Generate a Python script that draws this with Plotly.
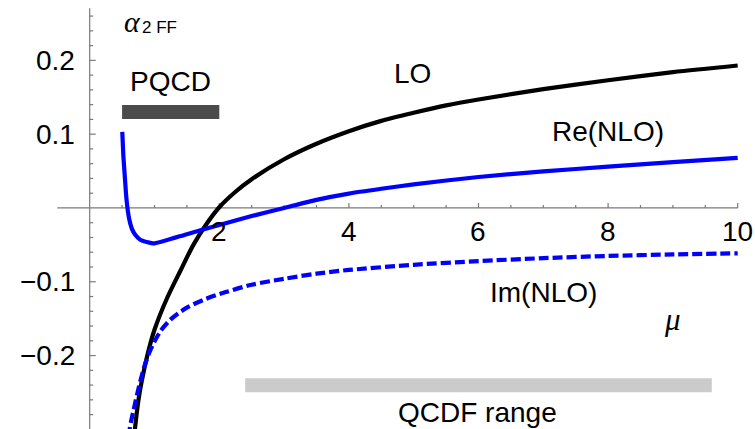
import plotly.graph_objects as go

# Form-factor coefficient alpha_2 versus the scale mu
lo_mu = [0.68, 0.70, 0.75, 0.80, 0.90, 1.0, 1.2, 1.4, 1.6, 1.8, 2.0, 2.25, 2.5, 3.0,
         3.5, 4.0, 4.5, 5.0, 5.5, 6.0, 7.0, 8.0, 9.0, 10.0]
lo_val = [-0.315, -0.298, -0.262, -0.236, -0.196, -0.165, -0.121, -0.085, -0.050,
          -0.022, 0.001, 0.022, 0.039, 0.066, 0.087, 0.104, 0.118, 0.129, 0.139, 0.147,
          0.161, 0.173, 0.184, 0.193]

re_mu = [0.503, 0.52, 0.54, 0.56, 0.58, 0.61, 0.65, 0.70, 0.78, 0.88, 1.0, 1.5, 2.0,
         2.5, 3.0, 3.5, 4.0, 4.5, 5.0, 6.0, 7.0, 8.0, 9.0, 10.0]
re_val = [0.103, 0.070, 0.045, 0.020, 0.002, -0.015, -0.028, -0.036, -0.043, -0.046,
          -0.048, -0.0355, -0.023, -0.011, 0.0, 0.011, 0.0195, 0.026, 0.032, 0.042,
          0.0495, 0.056, 0.062, 0.068]

im_mu = [0.61, 0.62, 0.70, 0.78, 0.85, 0.92, 1.0, 1.1, 1.25, 1.5, 1.8, 2.1, 2.5, 3.0,
         3.5, 4.0, 5.0, 6.0, 7.0, 8.0, 9.0, 10.0]
im_val = [-0.31, -0.298, -0.265, -0.235, -0.213, -0.196, -0.181, -0.166, -0.151, -0.135,
          -0.123, -0.114, -0.104, -0.096, -0.089, -0.084, -0.077, -0.072, -0.068, -0.065,
          -0.063, -0.0614]

# Ranges of validity shown as horizontal bands
pqcd_range = [0.5, 2.0]
qcdf_range = [2.4, 9.6]

# Axis ticks
x_major = [2, 4, 6, 8, 10]
x_minor = [0.5, 1.0, 1.5, 2.5, 3.0, 3.5, 4.5, 5.0, 5.5, 6.5, 7.0, 7.5, 8.5, 9.0, 9.5]
y_major = [-0.2, -0.1, 0.1, 0.2]
y_major_labels = ["\u22120.2", "\u22120.1", "0.1", "0.2"]
y_minor = [round(-0.28 + 0.02 * i, 2) for i in range(28)]
y_minor = [v for v in y_minor if abs(v) > 1e-9 and v not in y_major]

SANS = "Liberation Sans, Arial, Helvetica, sans-serif"
SERIF = "Liberation Serif, Times New Roman, serif"
AXIS_COLOR = "#7a7a7a"

fig = go.Figure()

fig.add_trace(go.Scatter(x=lo_mu, y=lo_val, mode="lines",
                         line=dict(color="black", width=4.2, shape="spline", smoothing=0.8),
                         showlegend=False))
fig.add_trace(go.Scatter(x=re_mu, y=re_val, mode="lines",
                         line=dict(color="#0000ff", width=4.2, shape="spline", smoothing=0.5),
                         showlegend=False))
fig.add_trace(go.Scatter(x=im_mu, y=im_val, mode="lines",
                         line=dict(color="#0000ff", width=4.2, dash="10px,4px",
                                   shape="spline", smoothing=0.8),
                         showlegend=False))

shapes = []
# axes through the origin
shapes.append(dict(type="line", x0=-0.5, x1=10, y0=0, y1=0, layer="below",
                   line=dict(color=AXIS_COLOR, width=1.2)))
shapes.append(dict(type="line", x0=0, x1=0, y0=-0.31, y1=0.2706, layer="below",
                   line=dict(color=AXIS_COLOR, width=1.2)))
for v, ln in [(t, 5) for t in x_major] + [(t, 3) for t in x_minor]:
    shapes.append(dict(type="line", xref="x", yref="y", ysizemode="pixel", yanchor=0,
                       x0=v, x1=v, y0=0, y1=ln, layer="below",
                       line=dict(color=AXIS_COLOR, width=1.2)))
for v, ln in [(t, 6) for t in y_major] + [(t, 3.5) for t in y_minor]:
    shapes.append(dict(type="line", xref="x", yref="y", xsizemode="pixel", xanchor=0,
                       x0=0, x1=ln, y0=v, y1=v, layer="below",
                       line=dict(color=AXIS_COLOR, width=1.2)))
# range bands
shapes.append(dict(type="rect", x0=pqcd_range[0], x1=pqcd_range[1], y0=0.1205, y1=0.1395,
                   fillcolor="#4b4b4b", line=dict(width=0), layer="below"))
shapes.append(dict(type="rect", x0=qcdf_range[0], x1=qcdf_range[1], y0=-0.2497, y1=-0.2308,
                   fillcolor="#cbcbcb", line=dict(width=0), layer="below"))

annotations = []
for v in x_major:
    annotations.append(dict(x=v, y=0, text=str(v), showarrow=False, xanchor="center",
                            yanchor="middle", yshift=-24,
                            font=dict(family=SANS, size=28, color="black")))
for v, lab in zip(y_major, y_major_labels):
    annotations.append(dict(x=0, y=v, text=lab, showarrow=False, xanchor="right",
                            yanchor="middle", xshift=-13,
                            font=dict(family=SANS, size=28, color="black")))

labels = [
    (1.24, 0.172, "PQCD"),
    (4.98, 0.1816, "LO"),
    (8.0, 0.104, "Re(NLO)"),
    (7.0, -0.115, "Im(NLO)"),
    (5.99, -0.277, "QCDF range"),
]
for x, y, t in labels:
    annotations.append(dict(x=x, y=y, text=t, showarrow=False, xanchor="center",
                            yanchor="middle", font=dict(family=SANS, size=28, color="black")))

# axis titles
annotations.append(dict(x=8.99, y=-0.151, text="<i>\u03bc</i>", showarrow=False,
                        xanchor="center", yanchor="middle",
                        font=dict(family=SERIF, size=31, color="black")))
annotations.append(dict(x=0.50, y=0.2525, text="<i>\u03b1</i>", showarrow=False,
                        xanchor="left", yanchor="middle",
                        font=dict(family=SERIF, size=30, color="black")))
annotations.append(dict(x=0.775, y=0.2446, text="2 FF", showarrow=False,
                        xanchor="left", yanchor="middle",
                        font=dict(family=SANS, size=17, color="black")))

fig.update_layout(
    width=755, height=429,
    margin=dict(l=0, r=0, t=0, b=0),
    paper_bgcolor="white", plot_bgcolor="white",
    xaxis=dict(range=[-1.384, 10.267], visible=False, fixedrange=True),
    yaxis=dict(range=[-0.2995, 0.2818], visible=False, fixedrange=True),
    shapes=shapes, annotations=annotations, showlegend=False,
)

fig.write_html("out.html")
